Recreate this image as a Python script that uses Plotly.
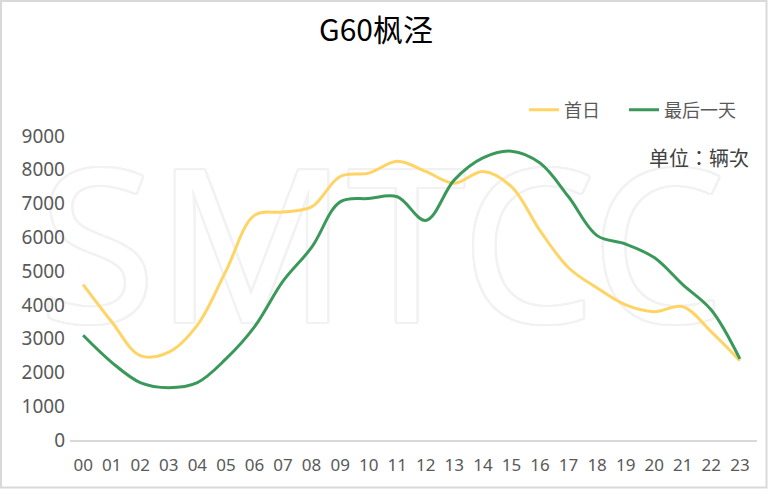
import math
import plotly.graph_objects as go

hours = ["00","01","02","03","04","05","06","07","08","09","10","11",
         "12","13","14","15","16","17","18","19","20","21","22","23"]
first_day = [4600, 3500, 2500, 2600, 3400, 5000, 6650, 6750, 6900, 7800, 7900, 8250,
             7950, 7600, 7950, 7500, 6200, 5100, 4500, 4000, 3800, 3950, 3200, 2350]
last_day = [3100, 2300, 1700, 1550, 1700, 2400, 3350, 4700, 5700, 7050, 7150, 7200,
            6500, 7700, 8350, 8550, 8200, 7200, 6050, 5800, 5400, 4600, 3850, 2400]
y_ticks = [0, 1000, 2000, 3000, 4000, 5000, 6000, 7000, 8000, 9000]

W, H = 772, 494
ML, MR, MT, MB = 70, 15, 136, 54
PW, PH = W - ML - MR, H - MT - MB
XR = [-0.46, 23.6]
YR = [0, 9000]

def px(x):
    return (x - ML) / PW

def py(y):
    return (H - MB - y) / PH

def dx(x):
    return XR[0] + px(x) * (XR[1] - XR[0])

def dy(y):
    return YR[0] + py(y) * (YR[1] - YR[0])

xi = list(range(len(hours)))

fig = go.Figure()

# watermark (drawn first so the lines sit on top); outline via text-shadow ring
c = "#f2f2f2"
offs = []
for r in (1.2, 2.4):
    for k in range(16):
        a = 2 * math.pi * k / 16
        offs.append((round(r * math.cos(a), 2), round(r * math.sin(a), 2)))
shadow = ", ".join(f"{a}px {b}px 0 {c}" for a, b in offs)
fig.add_trace(go.Scatter(x=[dx(382)], y=[dy(269)], mode="text", text=["SMTCC"],
                         textposition="middle center", showlegend=False, hoverinfo="skip",
                         cliponaxis=False,
                         textfont=dict(size=212, color="#ffffff", family="Noto Sans",
                                       shadow=shadow)))

fig.add_trace(go.Scatter(x=xi, y=first_day, name="首日", mode="lines", legend="legend",
                         line=dict(color="#FFD464", width=3, shape="spline", smoothing=1)))
fig.add_trace(go.Scatter(x=xi, y=last_day, name="最后一天", mode="lines", legend="legend2",
                         line=dict(color="#3A995A", width=3, shape="spline", smoothing=1)))

leg_font = dict(size=18, color="#595959", family="Noto Sans CJK SC")
fig.update_layout(
    width=W, height=H,
    margin=dict(l=ML, r=MR, t=MT, b=MB, autoexpand=False),
    paper_bgcolor="white", plot_bgcolor="rgba(0,0,0,0)",
    font=dict(family="Noto Sans, Noto Sans CJK SC", color="#595959"),
    title=dict(text="G60枫泾", x=376 / W, xanchor="center", y=1 - 30 / H, yanchor="middle",
               font=dict(size=30, color="#000000", family="Noto Sans CJK SC")),
    legend=dict(orientation="h", x=px(524), xanchor="left", y=py(110), yanchor="middle",
                font=leg_font, bgcolor="rgba(0,0,0,0)"),
    legend2=dict(orientation="h", x=px(624), xanchor="left", y=py(110), yanchor="middle",
                 font=leg_font, bgcolor="rgba(0,0,0,0)"),
    xaxis=dict(range=XR, tickmode="array", tickvals=xi, ticktext=hours,
               showgrid=False, zeroline=False, showline=True, linecolor="#D9D9D9",
               linewidth=1.5, ticks="", ticklabelstandoff=9,
               tickfont=dict(size=17, color="#595959",
                             family="Liberation Sans Narrow, Noto Sans")),
    yaxis=dict(range=YR, tickmode="array", tickvals=y_ticks,
               showgrid=False, zeroline=False, showline=False, ticks="",
               tickfont=dict(size=19, color="#595959"), ticklabelstandoff=4),
    showlegend=True,
)

fig.add_annotation(text="单位：辆次", xref="paper", yref="paper", x=px(751), y=py(157),
                   xanchor="right", yanchor="middle", showarrow=False,
                   font=dict(size=20, color="#404040", family="Noto Sans CJK TC"))

# outer frame
fig.add_shape(type="rect", xref="paper", yref="paper",
              x0=px(1), x1=px(766.5), y0=py(487.5), y1=py(1),
              line=dict(color="#D9D9D9", width=2), layer="below")

fig.write_html("out.html", config={"displayModeBar": False},
               post_script="document.body.style.margin='0';document.body.style.overflow='hidden';")
